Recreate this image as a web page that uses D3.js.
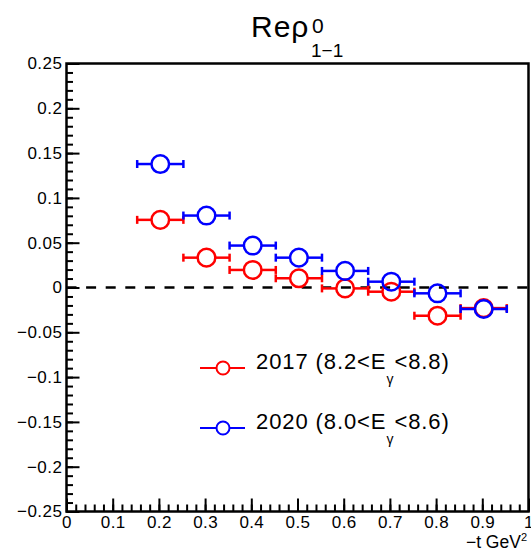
<!DOCTYPE html>
<html>
<head>
<meta charset="utf-8">
<script src="https://cdn.jsdelivr.net/npm/d3@7"></script>
<style>
  body { margin: 0; background: #fff; }
  svg text { font-family: "Liberation Sans", Arial, Helvetica, sans-serif; }
</style>
</head>
<body>
<div class="container"></div>
<script>
// -t bin centres and Re rho^0_{1-1} values
var tValues = [0.203, 0.303, 0.403, 0.503, 0.603, 0.703, 0.803, 0.903];
var tHalfWidth = 0.05;
var rho2017 = [0.0755, 0.0333, 0.0196, 0.0103, -0.001, -0.0047, -0.0315, -0.023];
var rho2020 = [0.1378, 0.0803, 0.0468, 0.0333, 0.0185, 0.0065, -0.0065, -0.024];

var seriesNames = ['2017', '2020'];
var seriesLabels = ['2017 (8.2<E', '2020 (8.0<E'];
var seriesLabelTails = ['<8.8)', '<8.6)'];
var seriesColors = ['#ff0000', '#0000ff'];

var xTicks = [0, 0.1, 0.2, 0.3, 0.4, 0.5, 0.6, 0.7, 0.8, 0.9, 1];
var xTickLabels = ['0', '0.1', '0.2', '0.3', '0.4', '0.5', '0.6', '0.7', '0.8', '0.9', '1'];
var yTicks = [-0.25, -0.2, -0.15, -0.1, -0.05, 0, 0.05, 0.1, 0.15, 0.2, 0.25];
var yTickLabels = ['\u22120.25', '\u22120.2', '\u22120.15', '\u22120.1', '\u22120.05', '0',
                   '0.05', '0.1', '0.15', '0.2', '0.25'];

const WIDTH = 531;
const HEIGHT = 553;
const LEFT = 66.5, RIGHT = 528.5, TOP = 63.5, BOTTOM = 511.5;
const MARKER_R = 8.8;

var xScale = d3.scaleLinear().domain([0, 1]).range([LEFT, RIGHT]);
var yScale = d3.scaleLinear().domain([-0.25, 0.25]).range([BOTTOM, TOP]);

var svg = d3.select('.container').append('svg')
    .attr('width', WIDTH)
    .attr('height', HEIGHT);

// minor ticks
var xMinor = d3.range(0, 1.0001, 0.02);
var yMinor = d3.range(-0.25, 0.2501, 0.01);

svg.append('g')
    .attr('transform', 'translate(0,' + BOTTOM + ')')
    .call(d3.axisBottom(xScale).tickValues(xMinor).tickSize(-7).tickSizeOuter(0).tickFormat(''))
    .call(function (g) { g.select('.domain').remove(); })
    .selectAll('line').attr('stroke-width', 2);

svg.append('g')
    .attr('transform', 'translate(' + LEFT + ',0)')
    .call(d3.axisLeft(yScale).tickValues(yMinor).tickSize(-6.5).tickSizeOuter(0).tickFormat(''))
    .call(function (g) { g.select('.domain').remove(); })
    .selectAll('line').attr('stroke-width', 2);

// major ticks with labels
var xAxis = svg.append('g')
    .attr('transform', 'translate(0,' + BOTTOM + ')')
    .call(d3.axisBottom(xScale).tickValues(xTicks).tickSize(-13).tickSizeOuter(0)
        .tickPadding(4)
        .tickFormat(function (d, i) { return xTickLabels[i]; }));
xAxis.select('.domain').remove();
xAxis.selectAll('line').attr('stroke-width', 2);
xAxis.selectAll('text').attr('font-size', 17).attr('fill', '#000')
    .attr('letter-spacing', 0.4)
    .attr('font-family', '"Liberation Sans", Arial, sans-serif');

var yAxis = svg.append('g')
    .attr('transform', 'translate(' + LEFT + ',0)')
    .call(d3.axisLeft(yScale).tickValues(yTicks).tickSize(-13).tickSizeOuter(0)
        .tickPadding(4)
        .tickFormat(function (d, i) { return yTickLabels[i]; }));
yAxis.select('.domain').remove();
yAxis.selectAll('line').attr('stroke-width', 2);
yAxis.selectAll('text').attr('font-size', 17).attr('fill', '#000')
    .attr('letter-spacing', 0.5)
    .attr('font-family', '"Liberation Sans", Arial, sans-serif');

// frame
svg.append('rect')
    .attr('x', LEFT).attr('y', TOP)
    .attr('width', RIGHT - LEFT).attr('height', BOTTOM - TOP)
    .attr('fill', 'none').attr('stroke', '#000').attr('stroke-width', 2.5);

// zero line
svg.append('line')
    .attr('x1', xScale(0)).attr('x2', xScale(1))
    .attr('y1', yScale(0)).attr('y2', yScale(0))
    .attr('stroke', '#000').attr('stroke-width', 2.5)
    .attr('stroke-dasharray', '10,9.6');

// data
var allSeries = [rho2017, rho2020];
allSeries.forEach(function (vals, s) {
    var g = svg.append('g').attr('class', 'series-' + seriesNames[s]);
    var color = seriesColors[s];
    var pts = tValues.map(function (t, i) { return {t: t, v: vals[i]}; });

    g.selectAll('.bar-left').data(pts).enter().append('line')
        .attr('x1', function (d) { return xScale(d.t - tHalfWidth); })
        .attr('x2', function (d) { return xScale(d.t) - MARKER_R; })
        .attr('y1', function (d) { return yScale(d.v); })
        .attr('y2', function (d) { return yScale(d.v); })
        .attr('stroke', color).attr('stroke-width', 2.5);
    g.selectAll('.bar-right').data(pts).enter().append('line')
        .attr('x1', function (d) { return xScale(d.t) + MARKER_R; })
        .attr('x2', function (d) { return xScale(d.t + tHalfWidth); })
        .attr('y1', function (d) { return yScale(d.v); })
        .attr('y2', function (d) { return yScale(d.v); })
        .attr('stroke', color).attr('stroke-width', 2.5);
    [-1, 1].forEach(function (side) {
        g.selectAll('.cap').data(pts).enter().append('line')
            .attr('x1', function (d) { return xScale(d.t + side * tHalfWidth); })
            .attr('x2', function (d) { return xScale(d.t + side * tHalfWidth); })
            .attr('y1', function (d) { return yScale(d.v) - 4; })
            .attr('y2', function (d) { return yScale(d.v) + 4; })
            .attr('stroke', color).attr('stroke-width', 2.5);
    });
    g.selectAll('circle').data(pts).enter().append('circle')
        .attr('cx', function (d) { return xScale(d.t); })
        .attr('cy', function (d) { return yScale(d.v); })
        .attr('r', MARKER_R)
        .attr('fill', 'none').attr('stroke', color).attr('stroke-width', 2.5);
});

// legend
var legendY = [368, 428];
seriesNames.forEach(function (name, s) {
    var lg = svg.append('g').attr('transform', 'translate(0,' + legendY[s] + ')');
    lg.append('line').attr('x1', 200).attr('x2', 245).attr('y1', 0).attr('y2', 0)
        .attr('stroke', seriesColors[s]).attr('stroke-width', 2);
    lg.append('circle').attr('cx', 223).attr('cy', 0).attr('r', 6.5)
        .attr('fill', '#fff').attr('stroke', seriesColors[s]).attr('stroke-width', 2);
    var t = lg.append('text').attr('x', 256).attr('y', 1).attr('font-size', 22)
        .attr('letter-spacing', 0.9).attr('fill', '#000');
    t.append('tspan').text(seriesLabels[s]);
    t.append('tspan').attr('font-size', 14).attr('dy', 15).attr('letter-spacing', 0).text('\u03b3');
    t.append('tspan').attr('dy', -15).attr('dx', 1).text(seriesLabelTails[s]);
});

// title
var title = svg.append('g');
title.append('text').attr('x', 251).attr('y', 37).attr('font-size', 30)
    .attr('letter-spacing', 1).text('Re\u03c1');
title.append('text').attr('x', 312).attr('y', 33).attr('font-size', 21).text('0');
title.append('text').attr('x', 311).attr('y', 57).attr('font-size', 19).text('1\u22121');

// x axis title
var xt = svg.append('text').attr('x', 527).attr('y', 548)
    .attr('text-anchor', 'end').attr('font-size', 17.5);
xt.append('tspan').text('\u2212t GeV');
xt.append('tspan').attr('font-size', 11).attr('dy', -7).text('2');
</script>
</body>
</html>
